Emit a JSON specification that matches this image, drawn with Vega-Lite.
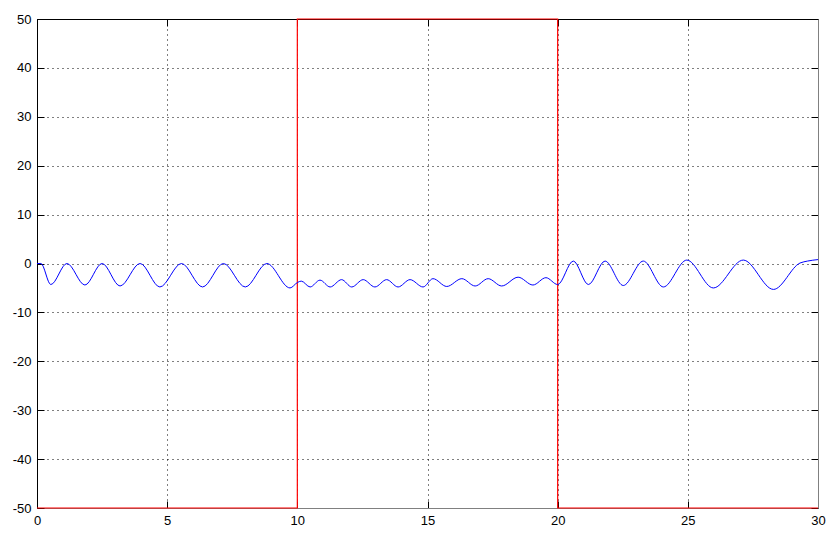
{
  "$schema": "https://vega.github.io/schema/vega-lite/v6.json",
  "width": 781,
  "height": 489,
  "autosize": {"type": "none"},
  "padding": {"left": 37, "top": 19, "right": 18, "bottom": 26},
  "background": "white",
  "config": {
    "view": {"stroke": null},
    "axis": {"labelFont": "Liberation Sans", "labelFontSize": 13, "labelColor": "#000", "tickColor": "#000", "domainColor": "#000"}
  },
  "datasets": {
    "signal": [
      {"t": 0, "v": 0}, {"t": 0.15, "v": 0}, {"t": 0.53, "v": -4.3}, {"t": 1.15, "v": 0},
      {"t": 1.84, "v": -4.4}, {"t": 2.5, "v": 0}, {"t": 3.19, "v": -4.6}, {"t": 3.96, "v": 0},
      {"t": 4.72, "v": -4.8}, {"t": 5.55, "v": 0}, {"t": 6.36, "v": -4.8}, {"t": 7.16, "v": 0},
      {"t": 8.0, "v": -4.8}, {"t": 8.83, "v": 0}, {"t": 9.72, "v": -5.0}, {"t": 10.0, "v": -3.9},
      {"t": 10.15, "v": -3.6}, {"t": 10.49, "v": -4.8}, {"t": 10.87, "v": -3.4}, {"t": 11.26, "v": -4.8},
      {"t": 11.7, "v": -3.3}, {"t": 12.09, "v": -4.8}, {"t": 12.53, "v": -3.3}, {"t": 12.98, "v": -4.8},
      {"t": 13.43, "v": -3.3}, {"t": 13.87, "v": -4.8}, {"t": 14.33, "v": -3.3}, {"t": 14.83, "v": -4.8},
      {"t": 15.21, "v": -3.1}, {"t": 15.74, "v": -4.7}, {"t": 16.32, "v": -3.1}, {"t": 16.83, "v": -4.6},
      {"t": 17.33, "v": -3.1}, {"t": 17.85, "v": -4.6}, {"t": 18.48, "v": -2.8}, {"t": 19.05, "v": -4.4},
      {"t": 19.55, "v": -2.9}, {"t": 20.0, "v": -4.3}, {"t": 20.6, "v": 0.5}, {"t": 21.18, "v": -4.3},
      {"t": 21.82, "v": 0.5}, {"t": 22.52, "v": -4.5}, {"t": 23.29, "v": 0.5}, {"t": 24.06, "v": -4.8},
      {"t": 24.96, "v": 0.7}, {"t": 25.98, "v": -5.0}, {"t": 27.13, "v": 0.7}, {"t": 28.29, "v": -5.3},
      {"t": 29.31, "v": 0.1}, {"t": 29.6, "v": 0.5}, {"t": 30, "v": 0.8}
    ],
    "square": [
      {"i": 0, "t": 0, "v": -50}, {"i": 1, "t": 10, "v": -50}, {"i": 2, "t": 10, "v": 50},
      {"i": 3, "t": 20, "v": 50}, {"i": 4, "t": 20, "v": -50}, {"i": 5, "t": 30, "v": -50}
    ]
  },
  "layer": [
    {
      "data": {"name": "square"},
      "mark": {"type": "line", "color": "#ff0000", "strokeWidth": 1.2, "clip": false},
      "encoding": {
        "x": {"field": "t", "type": "quantitative", "scale": {"domain": [0, 30], "nice": false, "zero": false},
          "axis": {"orient": "bottom", "values": [0, 5, 10, 15, 20, 25, 30], "title": null, "tickSize": -7, "labelPadding": 13,
            "grid": true, "gridColor": "#000", "gridDash": [1, 4], "gridOpacity": 1, "domainColor": "#808080", "labelExpr": "datum.value + ''", "labelFlush": false}},
        "y": {"field": "v", "type": "quantitative", "scale": {"domain": [-50, 50], "nice": false, "zero": false},
          "axis": {"orient": "left", "values": [-50, -40, -30, -20, -10, 0, 10, 20, 30, 40, 50], "title": null, "tickSize": -7, "labelPadding": 13,
            "grid": true, "gridColor": "#000", "gridDash": [1, 4], "gridOpacity": 1, "labelExpr": "datum.value + ''", "labelFlush": false}},
        "order": {"field": "i", "type": "quantitative"}
      }
    },
    {
      "data": {"name": "signal"},
      "mark": {"type": "line", "color": "#0000ff", "strokeWidth": 1, "interpolate": "monotone"},
      "encoding": {
        "x": {"field": "t", "type": "quantitative",
          "axis": {"orient": "top", "values": [0, 5, 10, 15, 20, 25, 30], "title": null, "tickSize": -7, "labels": false, "grid": false}},
        "y": {"field": "v", "type": "quantitative",
          "axis": {"orient": "right", "values": [-50, -40, -30, -20, -10, 0, 10, 20, 30, 40, 50], "title": null, "tickSize": -7, "labels": false, "grid": false, "domainColor": "#808080"}}
      }
    }
  ]
}
